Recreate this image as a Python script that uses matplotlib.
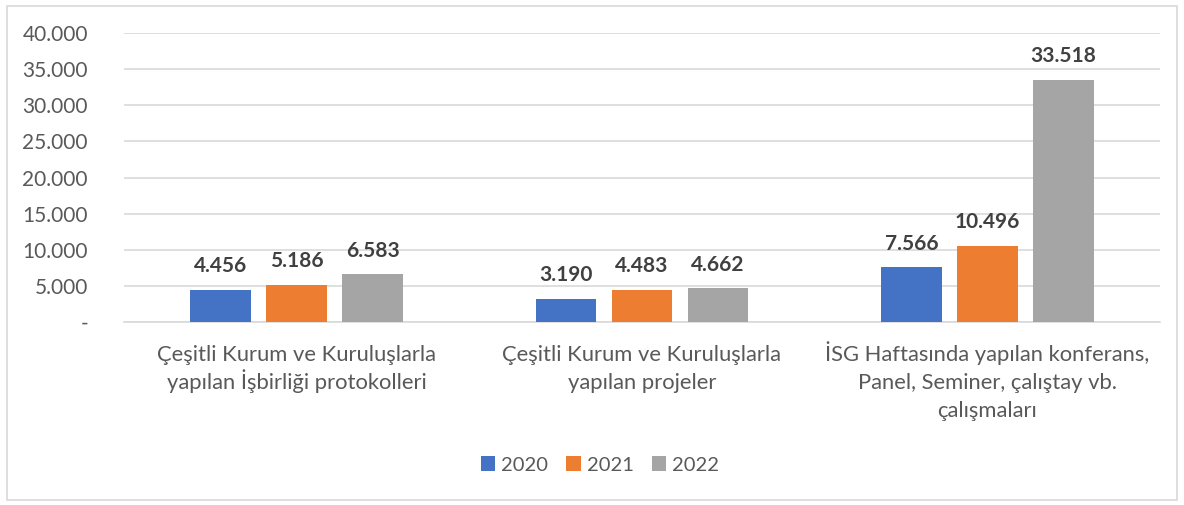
import matplotlib.pyplot as plt
import numpy as np
from matplotlib.patches import Rectangle

categories = ["Çeşitli Kurum ve Kuruluşlarla\nyapılan İşbirliği protokolleri",
              "Çeşitli Kurum ve Kuruluşlarla\nyapılan projeler",
              "İSG Haftasında yapılan konferans,\nPanel, Seminer, çalıştay vb.\nçalışmaları"]
years = ["2020", "2021", "2022"]
v2020 = [4456, 3190, 7566]
v2021 = [5186, 4483, 10496]
v2022 = [6583, 4662, 33518]
colors = ["#4472C4", "#ED7D31", "#A5A5A5"]

plt.rcParams['font.family'] = ['Lato', 'DejaVu Sans']

fig = plt.figure(figsize=(11.84, 5.05), dpi=100)
ax = fig.add_axes([124/1184, 1 - 322/505, 1036/1184, 289/505])

x = np.arange(len(categories))
w = 0.175
for i, (vals, yr) in enumerate(zip([v2020, v2021, v2022], years)):
    bars = ax.bar(x + (i - 1) * 0.22, vals, w, color=colors[i], label=yr, zorder=3)
    for b, v in zip(bars, vals):
        ax.text(b.get_x() + b.get_width() / 2, v + 1900, f"{v:,}".replace(",", "."),
                ha='center', va='bottom', fontsize=15, fontweight='bold', color='#404040')

ax.set_xlim(-0.5, 2.5)
ax.set_ylim(0, 40000)
yt = np.arange(0, 40001, 5000)
ax.set_yticks(yt)
ax.set_yticklabels(["-"] + [f"{t:,}".replace(",", ".") for t in yt[1:]])
ax.set_xticks(x)
ax.set_xticklabels([])
ax.tick_params(axis='both', length=0, labelsize=15, colors='#595959')
ax.tick_params(axis='y', pad=26)

# category labels, one text per line so every line sits on the same baseline
for xi, lab in zip(x, categories):
    for k, line in enumerate(lab.split("\n")):
        ax.annotate(line, (xi, 0), xycoords=('data', 'axes fraction'),
                    xytext=(0, -39 - 28 * k), textcoords='offset pixels',
                    ha='center', va='baseline', fontsize=15.8, color='#595959')

ax.grid(axis='y', color='#D9D9D9', linewidth=1.2, zorder=0)
for s in ['top', 'right', 'left']:
    ax.spines[s].set_visible(False)
ax.spines['bottom'].set_color('#D9D9D9')
ax.spines['bottom'].set_linewidth(1.2)

leg = fig.legend(loc='center', bbox_to_anchor=(600/1184, 1 - 465/505), ncol=3, frameon=False,
                 fontsize=14.5, handlelength=0.7, handleheight=0.7, handletextpad=0.3, columnspacing=0.9)
for t in leg.get_texts():
    t.set_color('#595959')

fig.patches.append(Rectangle((7/1184, 5/505), 1170/1184, 494/505, transform=fig.transFigure,
                             fill=False, edgecolor='#D9D9D9', linewidth=1.2))

fig.savefig("out.png", dpi=100)
